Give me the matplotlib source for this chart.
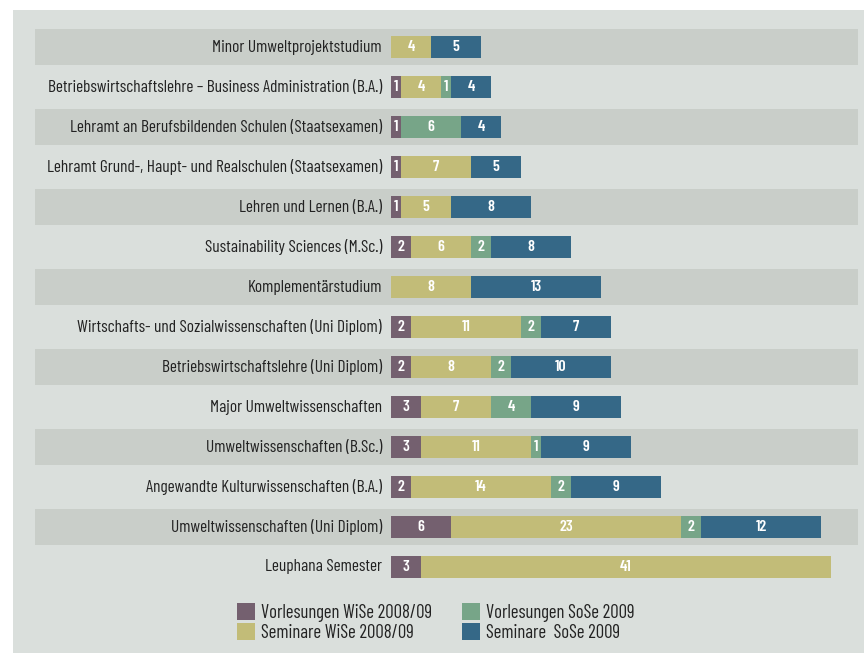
import matplotlib
matplotlib.use("Agg")
import matplotlib.pyplot as plt
from matplotlib.patches import Rectangle, Patch
import numpy as np

plt.rcParams["font.family"] = ["Barlow Condensed", "DejaVu Sans"]

studies = [
    "Minor Umweltprojektstudium",
    "Betriebswirtschaftslehre – Business Administration (B.A.)",
    "Lehramt an Berufsbildenden Schulen (Staatsexamen)",
    "Lehramt Grund-, Haupt- und Realschulen (Staatsexamen)",
    "Lehren und Lernen (B.A.)",
    "Sustainability Sciences (M.Sc.)",
    "Komplementärstudium",
    "Wirtschafts- und Sozialwissenschaften (Uni Diplom)",
    "Betriebswirtschaftslehre (Uni Diplom)",
    "Major Umweltwissenschaften",
    "Umweltwissenschaften (B.Sc.)",
    "Angewandte Kulturwissenschaften (B.A.)",
    "Umweltwissenschaften (Uni Diplom)",
    "Leuphana Semester",
]
vorl_wise = [0, 1, 1, 1, 1, 2, 0, 2, 2, 3, 3, 2, 6, 3]
sem_wise = [4, 4, 0, 7, 5, 6, 8, 11, 8, 7, 11, 14, 23, 41]
vorl_sose = [0, 1, 6, 0, 0, 2, 0, 2, 2, 4, 1, 2, 2, 0]
sem_sose = [5, 4, 4, 5, 8, 8, 13, 7, 10, 9, 9, 9, 12, 0]

series = [
    ("Vorlesungen WiSe 2008/09", vorl_wise, "#74606f"),
    ("Seminare WiSe 2008/09", sem_wise, "#c2bc78"),
    ("Vorlesungen SoSe 2009", vorl_sose, "#77a588"),
    ("Seminare  SoSe 2009", sem_sose, "#356887"),
]

W, H = 864, 653
fig = plt.figure(figsize=(W / 100, H / 100), dpi=100, facecolor="white")
fig.patches.append(Rectangle((13 / W, 0), 1, 1 - 10 / H, transform=fig.transFigure,
                             facecolor="#dadfdc", edgecolor="none", zorder=-10))

# axes: px x 35..858, y 27..587
ax = fig.add_axes([35 / W, 1 - 587 / H, (858 - 35) / W, 560 / H])
ax.set_facecolor("none")
ax.set_xlim(-35.6, 46.7)
ax.set_ylim(13.5, -0.5)
ax.axis("off")

y = np.arange(len(studies))
for i in y:
    if i % 2 == 0:
        ax.barh(i, 82.3, left=-35.6, height=0.9, color="#c9cec9", zorder=0)

left = np.zeros(len(studies))
for name, vals, col in series:
    vals = np.array(vals)
    ax.barh(y, vals, left=left, height=0.55, color=col, zorder=2)
    for i, v in enumerate(vals):
        if v > 0:
            ax.text(left[i] + v / 2, i, str(v), ha="center", va="center",
                    color="white", fontsize=11.5, fontweight="semibold", zorder=3)
    left = left + vals

for i, s in enumerate(studies):
    ax.text(-0.9, i, s, ha="right", va="center", fontsize=12.5, color="#222222")

handles = [Patch(facecolor=c, edgecolor="none", label=n) for n, _, c in series]
fig.legend(handles=handles, ncol=2, frameon=False, loc="upper left",
           bbox_to_anchor=(222 / W, 1 - 588 / H), fontsize=13.5,
           handlelength=0.95, handleheight=1.0, handletextpad=0.32,
           columnspacing=1.6, labelspacing=0.08, borderpad=0.3,
           labelcolor="#222222")

fig.savefig("out.png", dpi=100, facecolor="white")
